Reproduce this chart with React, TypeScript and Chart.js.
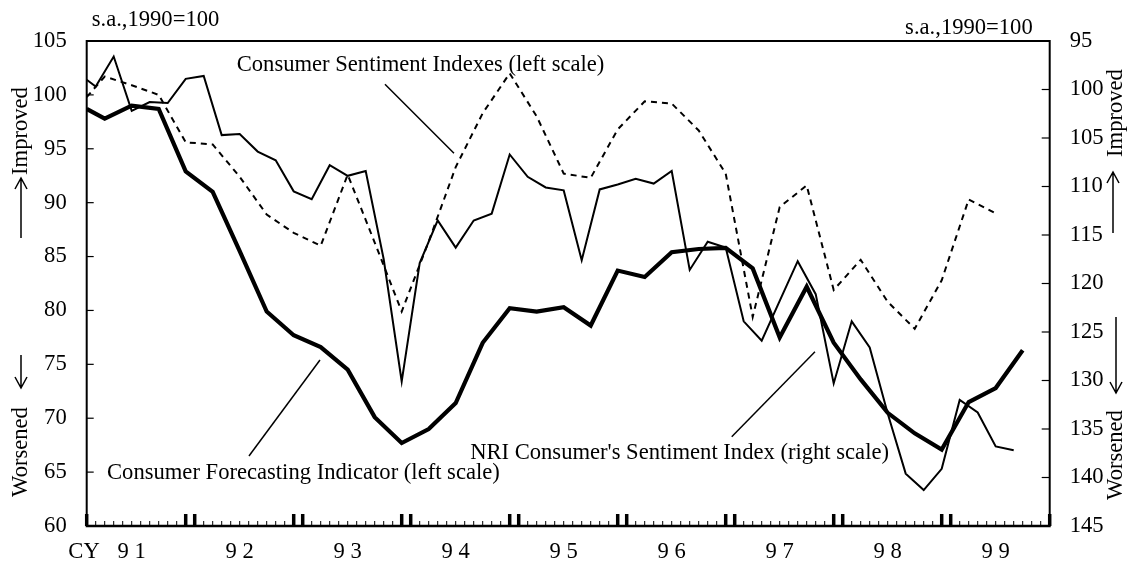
import { useEffect, useRef } from "react";
import { Chart, registerables } from "chart.js";

Chart.register(...registerables);

const FONT = '"Liberation Serif", "Times New Roman", serif';
const FS = 22.6;

// Consumer Forecasting Indicator (left scale), quarterly; x = month index from Jan 1991
const cfiMonths = [0, 2, 5, 8, 11, 14, 17, 20, 23, 26, 29, 32, 35, 38, 41, 44, 47, 50, 53, 56, 59, 62, 65, 68, 71, 74, 77, 80, 83, 86, 89, 92, 95, 98, 101, 104];
const cfiValues = [98.7, 97.8, 99.0, 98.7, 92.9, 91.0, 85.5, 79.9, 77.7, 76.6, 74.5, 70.1, 67.7, 69.0, 71.4, 77.0, 80.2, 79.9, 80.3, 78.6, 83.7, 83.1, 85.4, 85.7, 85.8, 83.9, 77.5, 82.2, 77.0, 73.6, 70.5, 68.6, 67.1, 71.5, 72.8, 76.3];

// Consumer Sentiment Indexes (left scale), quarterly
const csiMonths = [0, 2, 5, 8, 11, 14, 17, 20, 23, 26, 29, 32, 35, 38, 41, 44, 47, 50, 53, 56, 59, 62, 65, 68, 71, 74, 77, 80, 83, 86, 89, 92, 95, 98, 101];
const csiValues = [99.8, 101.7, 100.9, 100.0, 95.6, 95.4, 92.4, 88.9, 87.2, 86.0, 92.6, 86.3, 79.9, 86.4, 93.3, 98.3, 102.0, 98.0, 92.7, 92.3, 96.8, 99.4, 99.2, 96.7, 92.7, 79.4, 89.6, 91.6, 81.9, 84.7, 80.8, 78.3, 82.8, 90.3, 89.0];

// NRI Consumer's Sentiment Index (right scale, inverted), bi-monthly
const nriMonths = [0, 1, 3, 5, 7, 9, 11, 13, 15, 17, 19, 21, 23, 25, 27, 29, 31, 33, 35, 37, 39, 41, 43, 45, 47, 49, 51, 53, 55, 57, 59, 61, 63, 65, 67, 69, 71, 73, 75, 77, 79, 81, 83, 85, 87, 89, 91, 93, 95, 97, 99, 101, 103];
const nriValues = [99.0, 99.7, 96.6, 102.2, 101.3, 101.4, 98.9, 98.6, 104.7, 104.6, 106.4, 107.3, 110.5, 111.3, 107.8, 108.9, 108.4, 117.5, 130.1, 117.9, 113.5, 116.3, 113.5, 112.8, 106.7, 109.0, 110.1, 110.4, 117.6, 110.3, 109.8, 109.2, 109.7, 108.4, 118.6, 115.7, 116.3, 123.9, 125.9, 121.8, 117.7, 121.1, 130.3, 123.9, 126.6, 133.4, 139.6, 141.3, 139.1, 132.0, 133.3, 136.8, 137.2];

// Axes
const leftTicks = [60, 65, 70, 75, 80, 85, 90, 95, 100, 105];
const rightTicks = [95, 100, 105, 110, 115, 120, 125, 130, 135, 140, 145];
const monthCount = 108;
const yearLabels = ["9 1", "9 2", "9 3", "9 4", "9 5", "9 6", "9 7", "9 8", "9 9"];
const yearLabelMonths = [5, 17, 29, 41, 53, 65, 77, 89, 101];
const unitLabel = "s.a.,1990=100";

const toXY = (ms: number[], vs: number[]) => ms.map((m, i) => ({ x: m, y: vs[i] }));

function arrow(ctx: CanvasRenderingContext2D, x: number, yTail: number, yHead: number) {
  const dir = yHead < yTail ? 1 : -1;
  ctx.beginPath();
  ctx.moveTo(x, yTail);
  ctx.lineTo(x, yHead);
  ctx.moveTo(x - 6, yHead + dir * 11);
  ctx.lineTo(x, yHead);
  ctx.lineTo(x + 6, yHead + dir * 11);
  ctx.stroke();
}

function vText(ctx: CanvasRenderingContext2D, t: string, cx: number, cy: number) {
  ctx.save();
  ctx.translate(cx, cy);
  ctx.rotate(-Math.PI / 2);
  ctx.textAlign = "center";
  ctx.textBaseline = "middle";
  ctx.fillText(t, 0, 0);
  ctx.restore();
}

const decor = {
  id: "decor",
  afterDraw(chart: any) {
    const { ctx, chartArea: a, scales } = chart;
    const sx = scales.x, yl = scales.y, yr = scales.y2;
    ctx.save();
    ctx.strokeStyle = "#000";
    ctx.fillStyle = "#000";
    ctx.lineCap = "butt";

    // frame
    ctx.lineWidth = 2;
    ctx.beginPath();
    ctx.moveTo(a.left, a.bottom);
    ctx.lineTo(a.left, a.top);
    ctx.lineTo(a.right, a.top);
    ctx.lineTo(a.right, a.bottom);
    ctx.stroke();
    ctx.lineWidth = 2.5;
    ctx.beginPath();
    ctx.moveTo(a.left - 1, a.bottom);
    ctx.lineTo(a.right + 1, a.bottom);
    ctx.stroke();

    // y ticks (inside)
    ctx.lineWidth = 1.2;
    leftTicks.forEach((v) => {
      const py = yl.getPixelForValue(v);
      ctx.beginPath();
      ctx.moveTo(a.left, py);
      ctx.lineTo(a.left + 7, py);
      ctx.stroke();
    });
    rightTicks.forEach((v) => {
      const py = yr.getPixelForValue(v);
      ctx.beginPath();
      ctx.moveTo(a.right - 8, py);
      ctx.lineTo(a.right, py);
      ctx.stroke();
    });

    // x ticks
    for (let m = 0; m < monthCount; m++) {
      const px = sx.getPixelForValue(m);
      const thick = m % 12 === 0 || m % 12 === 11;
      ctx.lineWidth = thick ? 3.5 : 1;
      ctx.beginPath();
      ctx.moveTo(px, a.bottom);
      ctx.lineTo(px, a.bottom - (thick ? 12 : 5));
      ctx.stroke();
    }

    // x labels
    ctx.font = `${FS}px ${FONT}`;
    ctx.textAlign = "center";
    ctx.textBaseline = "middle";
    const ly = a.bottom + 26;
    ctx.fillText("CY", sx.getPixelForValue(-0.3), ly);
    yearLabels.forEach((t, i) => ctx.fillText(t, sx.getPixelForValue(yearLabelMonths[i]), ly));

    // unit labels
    ctx.textAlign = "left";
    ctx.fillText(unitLabel, a.left + 5, a.top - 21);
    ctx.textAlign = "right";
    ctx.fillText(unitLabel, a.right - 17, a.top - 13);

    // annotations (anchored in data coordinates)
    ctx.textAlign = "left";
    ctx.fillText("Consumer Sentiment Indexes (left scale)", sx.getPixelForValue(16.67), yl.getPixelForValue(102.77));
    ctx.fillText("Consumer Forecasting Indicator (left scale)", sx.getPixelForValue(2.26), yl.getPixelForValue(64.9));
    ctx.textAlign = "right";
    ctx.fillText("NRI Consumer's Sentiment Index (right scale)", sx.getPixelForValue(89.14), yl.getPixelForValue(66.77));

    ctx.lineWidth = 1.5;
    const lead = (m1: number, v1: number, m2: number, v2: number) => {
      ctx.beginPath();
      ctx.moveTo(sx.getPixelForValue(m1), yl.getPixelForValue(v1));
      ctx.lineTo(sx.getPixelForValue(m2), yl.getPixelForValue(v2));
      ctx.stroke();
    };
    lead(33.14, 100.98, 40.81, 94.58);
    lead(25.92, 75.4, 18.03, 66.5);
    lead(80.92, 76.17, 71.67, 68.29);

    // side labels
    vText(ctx, "Improved", 21, 131);
    vText(ctx, "Worsened", 21, 452);
    vText(ctx, "Improved", 1116, 113);
    vText(ctx, "Worsened", 1116, 455);
    ctx.lineWidth = 1.5;
    arrow(ctx, 21, 238, 178);
    arrow(ctx, 21, 355, 388);
    arrow(ctx, 1113, 233, 172);
    arrow(ctx, 1116, 317, 393);

    ctx.restore();
  },
};

export default function App() {
  const ref = useRef<HTMLCanvasElement | null>(null);
  useEffect(() => {
    document.body.style.margin = "0";
    const canvas = ref.current;
    if (!canvas) return;
    const chart = new Chart(canvas, {
      type: "line",
      data: {
        datasets: [
          {
            label: "NRI Consumer's Sentiment Index (right scale)",
            data: toXY(nriMonths, nriValues),
            yAxisID: "y2",
            borderColor: "#000",
            borderWidth: 2,
            pointRadius: 0,
            tension: 0,
            fill: false,
          },
          {
            label: "Consumer Sentiment Indexes (left scale)",
            data: toXY(csiMonths, csiValues),
            yAxisID: "y",
            borderColor: "#000",
            borderWidth: 2,
            borderDash: [6, 5],
            pointRadius: 0,
            tension: 0,
            fill: false,
          },
          {
            label: "Consumer Forecasting Indicator (left scale)",
            data: toXY(cfiMonths, cfiValues),
            yAxisID: "y",
            borderColor: "#000",
            borderWidth: 4.2,
            pointRadius: 0,
            tension: 0,
            fill: false,
          },
        ],
      },
      options: {
        animation: false,
        responsive: false,
        devicePixelRatio: 1,
        layout: { padding: { top: 41, left: 0, right: 0, bottom: 0 } },
        plugins: { legend: { display: false }, tooltip: { enabled: false }, title: { display: false } },
        scales: {
          x: {
            type: "linear",
            min: 0,
            max: monthCount - 1,
            grid: { display: false, drawTicks: false },
            border: { display: false },
            ticks: { display: false },
            afterFit: (s: any) => { s.height = 43; },
          },
          y: {
            position: "left",
            min: 60,
            max: 105,
            grid: { display: false, drawTicks: false },
            border: { display: false },
            ticks: { stepSize: 5, padding: 20, color: "#000", font: { family: FONT, size: FS } },
            afterFit: (s: any) => { s.width = 86.7; },
          },
          y2: {
            position: "right",
            min: 95,
            max: 145,
            reverse: true,
            grid: { display: false, drawTicks: false },
            border: { display: false },
            ticks: { stepSize: 5, padding: 20, color: "#000", font: { family: FONT, size: FS } },
            afterFit: (s: any) => { s.width = 80.3; },
          },
        },
      } as any,
      plugins: [decor],
    });
    return () => chart.destroy();
  }, []);
  return (
    <div style={{ position: "absolute", left: 0, top: 0, width: 1130, height: 569, background: "#fff" }}>
      <canvas ref={ref} width={1130} height={569} style={{ width: 1130, height: 569, display: "block" }} />
    </div>
  );
}
